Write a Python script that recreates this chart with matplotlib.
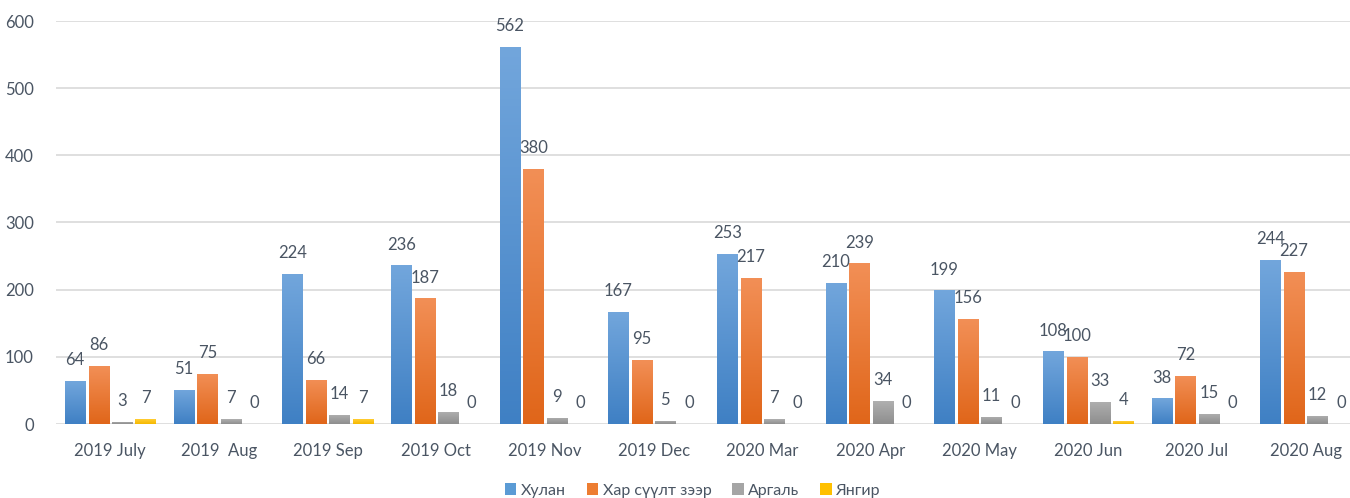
import matplotlib.pyplot as plt
import numpy as np
from matplotlib.colors import LinearSegmentedColormap

plt.rcParams['font.family'] = ['Lato', 'DejaVu Sans']

months = ['2019 July', '2019  Aug', '2019 Sep', '2019 Oct', '2019 Nov', '2019 Dec',
          '2020 Mar', '2020 Apr', '2020 May', '2020 Jun', '2020 Jul', '2020 Aug']
series_names = ['Хулан', 'Хар сүүлт зээр', 'Аргаль', 'Янгир']
khulan = [64, 51, 224, 236, 562, 167, 253, 210, 199, 108, 38, 244]
khar_suult = [86, 75, 66, 187, 380, 95, 217, 239, 156, 100, 72, 227]
argali = [3, 7, 14, 18, 9, 5, 7, 34, 11, 33, 15, 12]
yangir = [7, 0, 7, 0, 0, 0, 0, 0, 0, 4, 0, 0]

# top / bottom colours of the gradient fill
grads = [('#72a6dc', '#3f80c4'),
         ('#f28f56', '#e0661a'),
         ('#b0b0b0', '#8e8e8e'),
         ('#ffcd33', '#f5b800')]
legend_cols = ['#5b9bd5', '#ed7d31', '#a5a5a5', '#ffc000']
text_col = '#4a5563'

fig = plt.figure(figsize=(13.5, 4.98), dpi=100)
ax = fig.add_axes([56 / 1350, 74 / 498, 1304 / 1350, 403 / 498])

x = np.arange(len(months))
width = 0.185
step = 0.216
grad = np.linspace(1, 0, 100).reshape(-1, 1)

for i, vals in enumerate([khulan, khar_suult, argali, yangir]):
    pos = x + (i - 1.5) * step
    bars = ax.bar(pos, vals, width, color='none', edgecolor='none', zorder=2)
    cmap = LinearSegmentedColormap.from_list('g%d' % i, [grads[i][1], grads[i][0]])
    for b, v in zip(bars, vals):
        if v > 0:
            im = ax.imshow(grad, cmap=cmap, aspect='auto', zorder=2,
                           extent=[b.get_x(), b.get_x() + b.get_width(), 0, v])
            im.set_clip_path(b)
        ax.annotate(str(v), (b.get_x() + b.get_width() / 2, v), xytext=(0, 15),
                    textcoords='offset points', ha='center', va='center',
                    fontsize=12, color=text_col)
    ax.bar([0], [0], color=legend_cols[i], label=series_names[i])

ax.set_xlim(-0.5, len(months) - 0.5)
ax.set_ylim(0, 600)
ax.set_yticks(np.arange(0, 601, 100))
ax.set_xticks(x)
ax.set_xticklabels(months)
ax.tick_params(length=0, labelsize=12, labelcolor=text_col)
ax.tick_params(axis='x', pad=14)
ax.tick_params(axis='y', pad=16)
ax.grid(axis='y', color='#d9d9d9', lw=1.2, zorder=0)
ax.set_axisbelow(True)
for s in ax.spines.values():
    s.set_visible(False)

fig.legend(loc='lower center', bbox_to_anchor=(693 / 1350, -0.028), ncol=4, frameon=False,
           fontsize=11.5, handlelength=0.7, handleheight=0.7, handletextpad=0.3,
           columnspacing=1.3, labelcolor=text_col)

plt.savefig('out.png', dpi=100)
